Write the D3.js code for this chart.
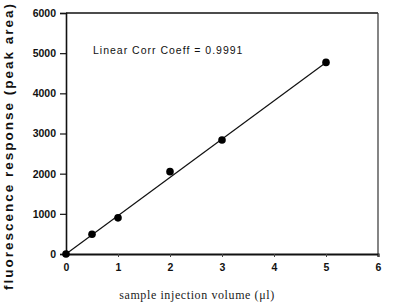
<!DOCTYPE html>
<html>
<head>
<meta charset="utf-8">
<script src="https://cdn.jsdelivr.net/npm/d3@7"></script>
<style>
  body { margin: 0; background: #fff; }
  svg { display: block; }
</style>
</head>
<body>
<svg id="chart" width="393" height="302"></svg>
<script>
// sample volumes (ul) and measured peak areas
const volumes = [0, 0.5, 1, 2, 3, 5];
const responses = [0, 490, 900, 2050, 2840, 4770];
// fitted line end points
const fitX = [0, 5];
const fitY = [0, 4770];
const xTicks = [0, 1, 2, 3, 4, 5, 6];
const yTicks = [0, 1000, 2000, 3000, 4000, 5000, 6000];

const svg = d3.select("#chart");
const plotLeft = 66, plotRight = 378, plotTop = 13, plotBottom = 254;

var x = d3.scaleLinear().domain([0, 6]).range([plotLeft, plotRight]);
var y = d3.scaleLinear().domain([0, 6000]).range([plotBottom, plotTop]);

// frame
svg.append("line").attr("x1", plotLeft).attr("x2", plotRight).attr("y1", plotTop).attr("y2", plotTop)
  .attr("stroke", "#111").attr("stroke-width", 1.5);
svg.append("line").attr("x1", plotRight).attr("x2", plotRight).attr("y1", plotTop).attr("y2", plotBottom)
  .attr("stroke", "#333").attr("stroke-width", 1.2);

// y axis
var yAxis = d3.axisLeft(y).tickValues(yTicks).tickSize(6).tickPadding(4).tickFormat(d3.format("d"));
var gy = svg.append("g").attr("transform", "translate(" + plotLeft + ",0)").call(yAxis);
gy.select(".domain").attr("stroke", "#111").attr("stroke-width", 1.6);
gy.selectAll("line").attr("stroke", "#111").attr("stroke-width", 1.2);
gy.selectAll("text").attr("font-family", "Liberation Sans, Arial, sans-serif")
  .attr("font-size", 10.5).attr("font-weight", "bold").attr("fill", "#111");

// x axis
var xAxis = d3.axisBottom(x).tickValues(xTicks).tickSize(3).tickPadding(7).tickFormat(d3.format("d"));
var gx = svg.append("g").attr("transform", "translate(0," + plotBottom + ")").call(xAxis);
gx.select(".domain").attr("stroke", "#111").attr("stroke-width", 2.2);
gx.selectAll("line").attr("stroke", "#444").attr("stroke-width", 1);
gx.selectAll("text").attr("font-family", "Liberation Sans, Arial, sans-serif")
  .attr("font-size", 10.5).attr("font-weight", "bold").attr("fill", "#111");

// fit line
svg.append("line")
  .attr("x1", x(fitX[0])).attr("y1", y(fitY[0]))
  .attr("x2", x(fitX[1])).attr("y2", y(fitY[1]))
  .attr("stroke", "#111").attr("stroke-width", 1.2);

// points
svg.append("g").selectAll("circle")
  .data(volumes)
  .join("circle")
  .attr("cx", function(d) { return x(d); })
  .attr("cy", function(d, i) { return y(responses[i]); })
  .attr("r", 3.8)
  .attr("fill", "#000");

// annotation
svg.append("text")
  .attr("x", 93).attr("y", 54)
  .attr("font-family", "Liberation Sans, Arial, sans-serif")
  .attr("font-size", 10.5).attr("letter-spacing", 1.0)
  .attr("fill", "#111")
  .text("Linear Corr Coeff = 0.9991");

// y label
svg.append("text")
  .attr("transform", "translate(13,146) rotate(-90)")
  .attr("text-anchor", "middle")
  .attr("font-family", "Liberation Sans, Arial, sans-serif")
  .attr("font-size", 13.5).attr("font-weight", "bold").attr("letter-spacing", 2)
  .attr("fill", "#111")
  .text("fluorescence response  (peak area)");

// x label
svg.append("text")
  .attr("x", 197).attr("y", 299)
  .attr("text-anchor", "middle")
  .attr("font-family", "Liberation Serif, Times New Roman, serif")
  .attr("font-size", 12).attr("letter-spacing", 0.6)
  .attr("fill", "#222")
  .text("sample injection volume (\u03bcl)");
</script>
</body>
</html>
